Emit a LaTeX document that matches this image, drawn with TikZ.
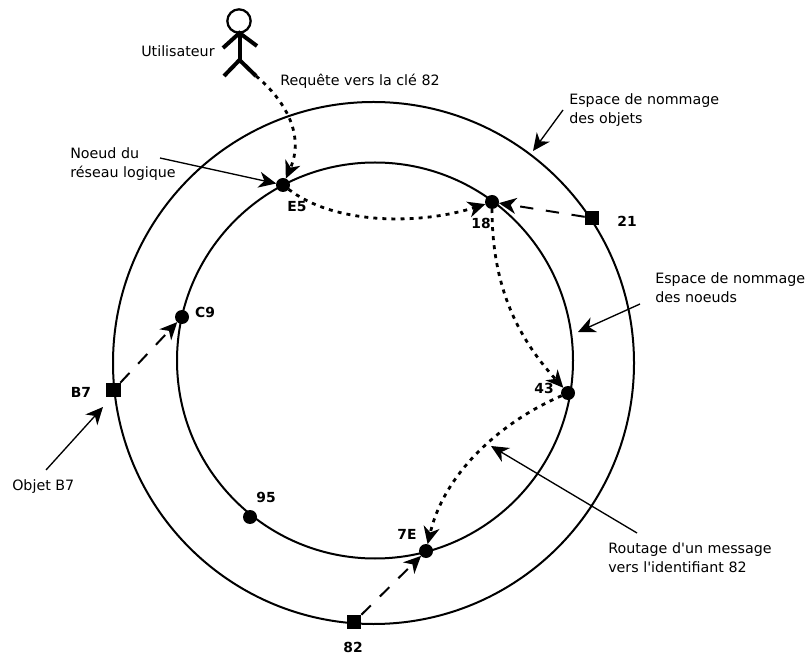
\documentclass[tikz,border=0pt]{standalone}
\usepackage{fontspec}
\setmainfont{DejaVu Sans}[Ligatures=TeXOff]
\usetikzlibrary{arrows.meta}

\begin{document}
\begin{tikzpicture}[
  x=0.75pt,y=-0.75pt,
  tip/.style={-{Stealth[length=13pt,width=12pt,inset=4pt]}},
  ring/.style={line width=1.5pt},
  peer/.style={circle,fill=black,inner sep=0,outer sep=0,minimum size=10.5pt},
  object/.style={rectangle,fill=black,inner sep=0,outer sep=0,minimum size=11pt},
  idlabel/.style={font=\bfseries\fontsize{10.4}{12}\selectfont,inner sep=0},
  note/.style={font=\fontsize{10.7}{14.3}\selectfont,align=left,inner sep=0,anchor=west},
  pointer/.style={tip,line width=1pt},
  hop/.style={tip,line width=2.1pt,dash pattern=on 3pt off 3.8pt},
  store/.style={tip,line width=1.5pt,dash pattern=on 10pt off 9.5pt},
  stick/.style={line width=3pt}
]
\useasboundingbox (0,0) rectangle (806,655);

\draw[ring] (373.5,363) ellipse (260.5 and 261);
\draw[ring] (375,360.5) ellipse (198 and 198);

% noeuds du reseau
\node[peer] (E5) at (283,185) {};
\node[peer] (P18) at (492,202) {};
\node[peer] (P43) at (568,393) {};
\node[peer] (P7E) at (426,551) {};
\node[peer] (P95) at (250,517) {};
\node[peer] (C9) at (182,317) {};

% objets
\node[object] (O21) at (592,218) {};
\node[object] (B7) at (113.5,390) {};
\node[object] (O82) at (354,622) {};

\node[idlabel] (lE5) at (297,207) {E5};
\node[idlabel] (l18) at (481,223) {18};
\node[idlabel] (l43) at (544,388) {43};
\node[idlabel] (l7E) at (407,534) {7E};
\node[idlabel] (l95) at (266,497) {95};
\node[idlabel] (lC9) at (205,312) {C9};
\node[idlabel] (l21) at (627,221) {21};
\node[idlabel] (lB7) at (81,392) {B7};
\node[idlabel] (l82) at (353,647) {82};

% utilisateur
\node[circle,draw,line width=1.7pt,inner sep=0,minimum size=17.5pt] (head) at (239,21) {};
\coordinate (neck) at (239.5,33);
\coordinate (hip) at (239.5,60);
\coordinate (handL) at (223,48);
\coordinate (handR) at (257,46);
\coordinate (footL) at (224,76);
\coordinate (footR) at (256,76);
\draw[stick] (neck) -- (hip);
\draw[stick] (handL) -- (neck) -- (handR);
\draw[stick] (footL) -- (hip) -- (footR);

\node[note] (user) at (141,51) {Utilisateur};
\node[note] (request) at (280,81) {Requête vers la clé 82};
\node[note] (peernote) at (70,164.5) {Noeud du\\réseau logique};
\node[note] (objspace) at (569,110) {Espace de nommage\\des objets};
\node[note] (peerspace) at (655,288) {Espace de nommage\\des noeuds};
\node[note] (objnote) at (12,487) {Objet B7};
\node[note] (routenote) at (608,557.5) {Routage d'un message\\vers l'identifiant 82};

% routage
\draw[hop] (footR) .. controls (285,100) and (305,135) .. (E5);
\draw[hop] (E5) .. controls (335,225) and (420,225) .. (P18);
\draw[hop] (P18) .. controls (492,290) and (520,340) .. (P43);
\draw[hop] (P43) .. controls (505,420) and (445,470) .. (P7E);

% rattachement des objets
\draw[store] (O21) -- (P18);
\draw[store] (B7) -- (C9);
\draw[store] (O82) -- (P7E);

% fleches des notes
\coordinate (a1) at (160,158);
\coordinate (a2) at (563,110);
\coordinate (a2e) at (533,151);
\coordinate (a3) at (640,304);
\coordinate (a3e) at (578,332);
\coordinate (a4) at (46,470);
\coordinate (a4e) at (103,407);
\coordinate (a5) at (637,533);
\coordinate (a5e) at (491,446);
\draw[pointer] (a1) -- (E5);
\draw[pointer] (a2) -- (a2e);
\draw[pointer] (a3) -- (a3e);
\draw[pointer] (a4) -- (a4e);
\draw[pointer] (a5) -- (a5e);

\end{tikzpicture}
\end{document}
